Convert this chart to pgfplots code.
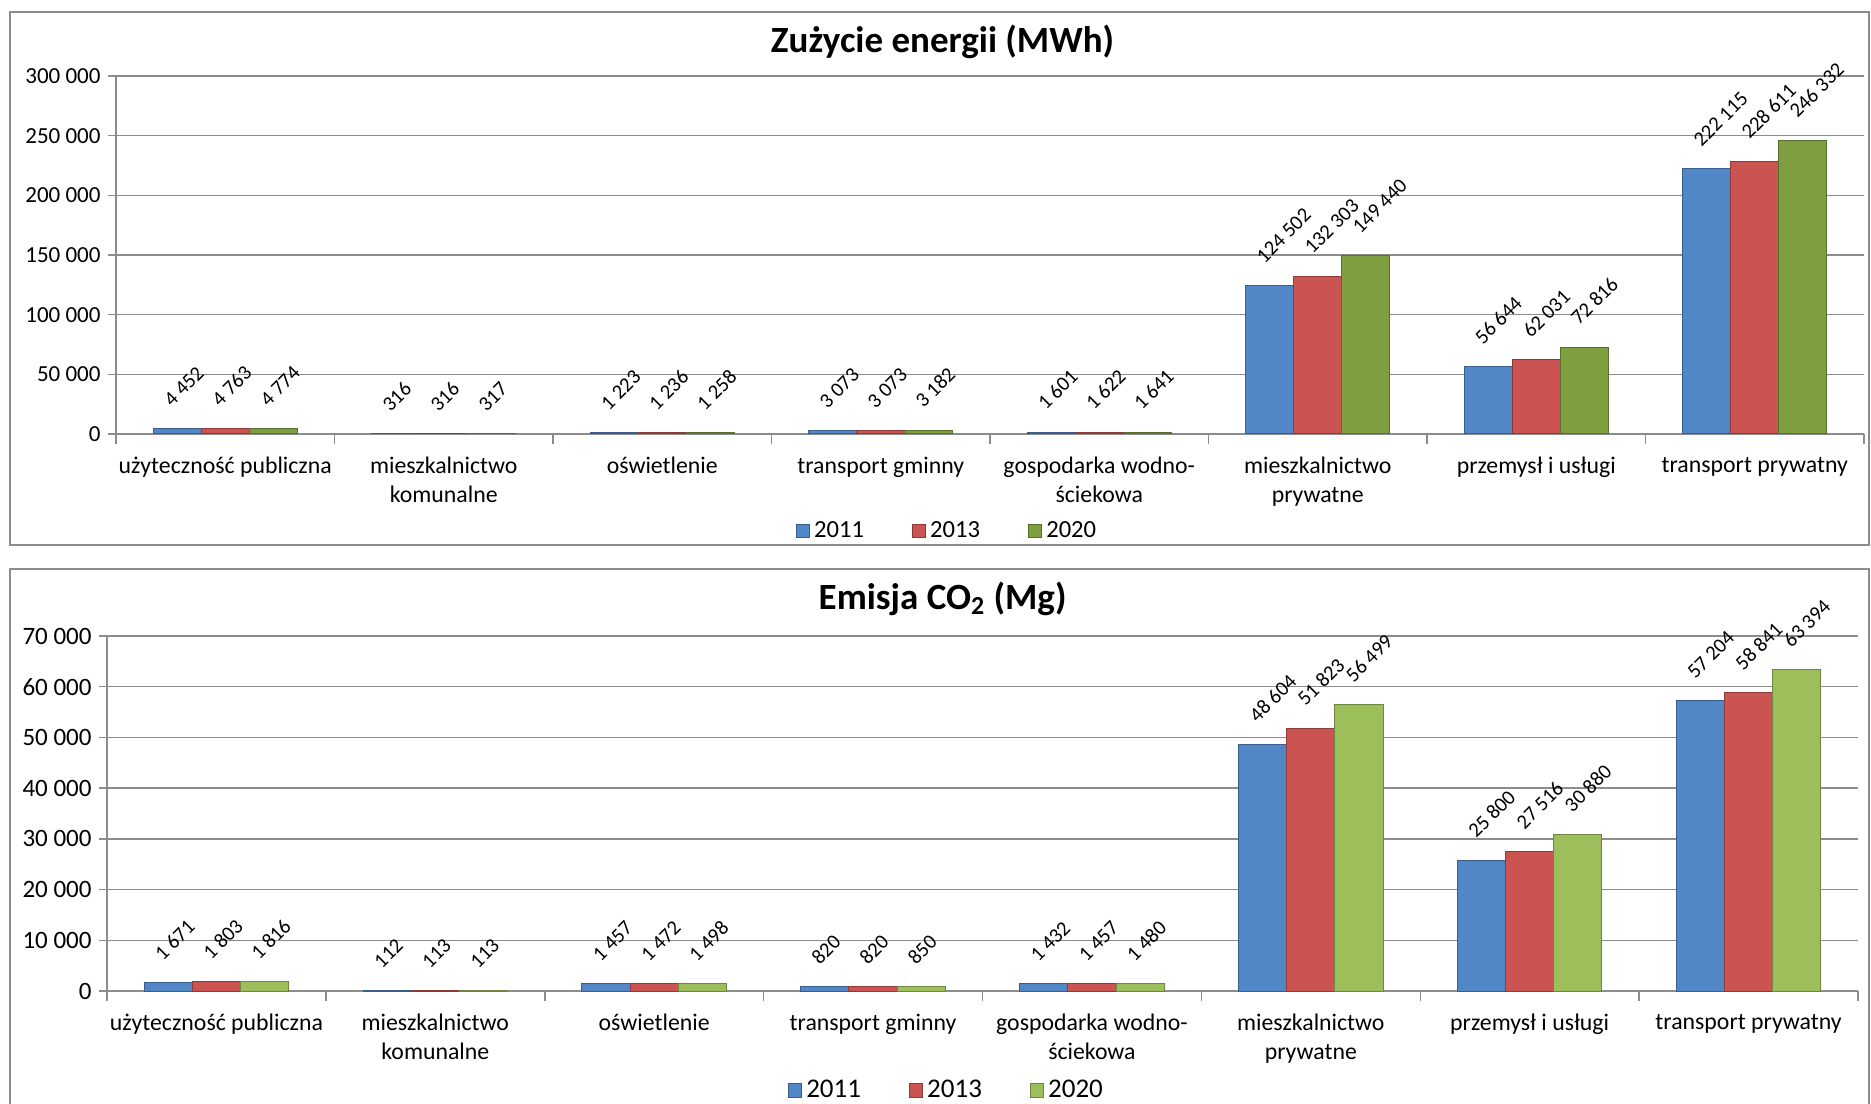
\documentclass[border=0pt]{standalone}
\usepackage{pgfplots}
\pgfplotsset{compat=1.18}
\usepackage{fontspec}
\setmainfont{Carlito}
\definecolor{gridc}{HTML}{8C8C8C}
\definecolor{cblue}{HTML}{5187C7}
\definecolor{cred}{HTML}{CB5351}
\definecolor{cgreenA}{HTML}{7E9E40}
\definecolor{cgreenB}{HTML}{9DBF5B}
\pgfplotsset{
 lgd/.style={legend image code/.code={\fill[##1] (0pt,-3.3pt) rectangle (6.6pt,3.3pt);}},
 common/.style={
  scale only axis,
  ybar=0pt, bar width=0.22,
  xmin=-0.5, xmax=7.5, ymin=0,
  xtick={0,...,7},
  xticklabels={użyteczność publiczna, {mieszkalnictwo\\komunalne}, oświetlenie, transport gminny, {gospodarka wodno-\\ściekowa}, {mieszkalnictwo\\prywatne}, przemysł i usługi, transport prywatny},
  x tick label style={align=center, yshift=-4pt, font=\fontsize{11.9}{14.3}\selectfont},
  minor xtick={-0.5,0.5,...,7.5},
  major x tick style={draw=none},
  minor x tick style={gridc, line width=0.75pt},
  axis x line*=bottom, axis y line*=left,
  axis line style={gridc, line width=0.75pt},
  ymajorgrids, grid style={gridc, line width=0.75pt},
  y tick style={gridc, line width=0.75pt},
  tick align=outside,
  major tick length=4.2pt, minor tick length=5pt,
  scaled y ticks=false,
  y tick label style={/pgf/number format/fixed, /pgf/number format/precision=0, /pgf/number format/1000 sep={\ }, /pgf/number format/assume math mode=true},
  nodes near coords={\pgfmathprintnumber[fixed,precision=0,1000 sep={\ },assume math mode=true]{\pgfplotspointmeta}},
  every node near coord/.append style={xshift=-2.5pt, yshift=10.2pt, rotate=45, anchor=south west, inner sep=0pt, font=\fontsize{10.3}{12}\selectfont},
  legend columns=3,
  legend style={draw=none, fill=none, anchor=center, /tikz/every even column/.append style={column sep=22pt}},
 }
}
\begin{document}
\begin{tikzpicture}
\path[use as bounding box] (0,0) rectangle (935.5pt,551.5pt);
\draw[gridc, line width=1pt] (4.75pt,279pt) rectangle (934.5pt,545.5pt);
\draw[gridc, line width=1pt] (4.75pt,-5pt) rectangle (934.5pt,267pt);

\begin{axis}[common,
  at={(58pt,334.5pt)}, anchor=south west,
  width=874pt, height=179pt,
  ymax=300000, ytick={0,50000,...,300000},
  y tick label style={font=\fontsize{11.5}{13}\selectfont},
  legend style={at={(0.476,-0.27)}, font=\fontsize{12.3}{14}\selectfont},
]
\addplot[lgd, fill=cblue, draw=cblue!70!black, line width=0.5pt] coordinates {(0,4452) (1,316) (2,1223) (3,3073) (4,1601) (5,124502) (6,56644) (7,222115)};
\addplot[lgd, fill=cred, draw=cred!70!black, line width=0.5pt] coordinates {(0,4763) (1,316) (2,1236) (3,3073) (4,1622) (5,132303) (6,62031) (7,228611)};
\addplot[lgd, fill=cgreenA, draw=cgreenA!70!black, line width=0.5pt] coordinates {(0,4774) (1,317) (2,1258) (3,3182) (4,1641) (5,149440) (6,72816) (7,246332)};
\legend{2011,2013,2020}
\end{axis}

\begin{axis}[common,
  at={(53.5pt,56pt)}, anchor=south west,
  width=875.5pt, height=177.5pt,
  ymax=70000, ytick={0,10000,...,70000},
  y tick label style={font=\fontsize{12.5}{14}\selectfont},
  legend style={at={(0.48,-0.28)}, font=\fontsize{13.5}{15}\selectfont},
]
\addplot[lgd, fill=cblue, draw=cblue!70!black, line width=0.5pt] coordinates {(0,1671) (1,112) (2,1457) (3,820) (4,1432) (5,48604) (6,25800) (7,57204)};
\addplot[lgd, fill=cred, draw=cred!70!black, line width=0.5pt] coordinates {(0,1803) (1,113) (2,1472) (3,820) (4,1457) (5,51823) (6,27516) (7,58841)};
\addplot[lgd, fill=cgreenB, draw=cgreenB!70!black, line width=0.5pt] coordinates {(0,1816) (1,113) (2,1498) (3,850) (4,1480) (5,56499) (6,30880) (7,63394)};
\legend{2011,2013,2020}
\end{axis}

\node[font=\bfseries\fontsize{18.5}{22}\selectfont] at (471.3pt,530.6pt) {Zużycie energii (MWh)};
\node[font=\bfseries\fontsize{18.5}{22}\selectfont] at (471.3pt,252pt) {Emisja CO\textsubscript{2} (Mg)};
\end{tikzpicture}
\end{document}
